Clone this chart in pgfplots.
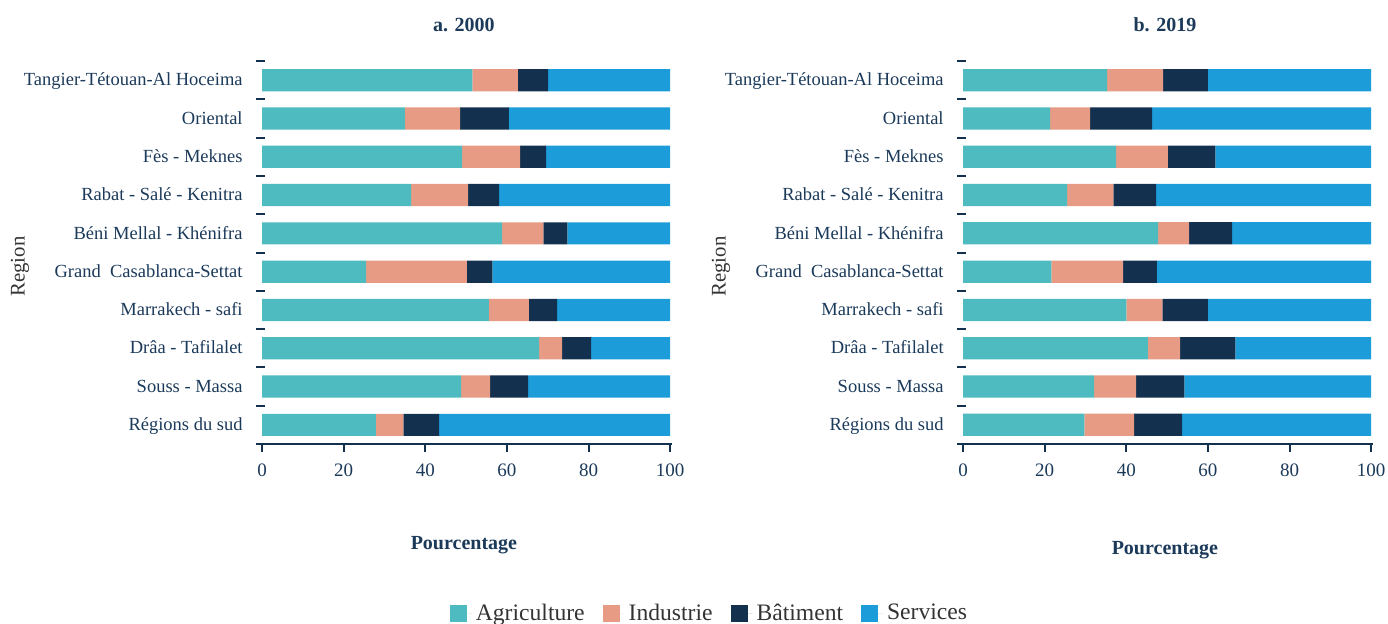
\documentclass[border=0pt]{standalone}
\usepackage{fontspec}
\setmainfont{Liberation Serif}
\usepackage{pgfplots}
\pgfplotsset{compat=1.18}
\usepackage{pgfplotstable}
\definecolor{agri}{HTML}{4DBBBF}
\definecolor{ind}{HTML}{E89B84}
\definecolor{bat}{HTML}{13304F}
\definecolor{serv}{HTML}{1C9DD9}
\definecolor{navy}{HTML}{1B3A5A}
\definecolor{txt}{HTML}{333333}

\pgfplotstableread{
y agri ind bat serv
9 51.5 11.2 7.4 29.9
8 35.0 13.5 12.0 39.5
7 49.0 14.2 6.4 30.4
6 36.5 14.0 7.6 41.9
5 58.8 10.1 5.9 25.2
4 25.5 24.7 6.2 43.6
3 55.6 9.8 6.9 27.7
2 67.9 5.6 7.1 19.4
1 48.8 7.1 9.3 34.8
0 27.9 6.7 8.8 56.6
}\dataA

\pgfplotstableread{
y agri ind bat serv
9 35.3 13.7 11.0 40.0
8 21.3 9.8 15.2 53.7
7 37.5 12.7 11.6 38.2
6 25.5 11.3 10.5 52.7
5 47.8 7.6 10.5 34.1
4 21.6 17.6 8.3 52.5
3 40.0 8.8 11.2 40.0
2 45.3 7.9 13.5 33.3
1 32.1 10.3 11.8 45.8
0 29.7 12.2 11.8 46.3
}\dataB

\pgfplotsset{
  regstyle/.style={
    xbar stacked, bar width=0.58,
    scale only axis, width=207.9pt, height=191.5pt,
    xmin=-1.5, xmax=100.4, ymin=-0.5, ymax=9.5,
    axis lines*=left,
    y axis line style={draw=none},
    x axis line style={line width=1pt, color=bat},
    xtick={0,20,...,100},
    ytick={0,...,9},
    yticklabels={Régions du sud, Souss - Massa, Drâa - Tafilalet, Marrakech - safi, Grand\ \ Casablanca-Settat, Béni Mellal - Khénifra, Rabat - Salé - Kenitra, Fès - Meknes, Oriental, Tangier-Tétouan-Al Hoceima},
    minor ytick={-0.5,0.5,...,9.5},
    tick align=outside,
    major tick length=4pt,
    minor tick length=4.5pt,
    major y tick style={draw=none},
    minor y tick style={line width=1pt, color=bat, xshift=4.5pt},
    major x tick style={line width=1pt, color=bat},
    xtick pos=lower, ytick pos=left,
    /pgf/number format/assume math mode=true,
    yticklabel style={font=\fontsize{9.25pt}{11pt}\selectfont, color=navy, inner sep=0pt, xshift=-2.5pt, text height=1.5ex, text depth=0.25ex},
    xticklabel style={font=\fontsize{9.5pt}{11pt}\selectfont, color=navy, yshift=-2.5pt},
    title style={at={(0.5,1)}, anchor=base, yshift=9pt, font=\bfseries\fontsize{10pt}{12pt}\selectfont, color=navy},
    xlabel style={at={(0.5,0)}, anchor=base, yshift=-52.5pt, font=\bfseries\fontsize{10pt}{12pt}\selectfont, color=navy},
    ylabel style={at={(0,0.5)}, anchor=center, yshift=118pt, xshift=-7pt, font=\fontsize{10.4pt}{12pt}\selectfont, color=txt},
    xlabel={Pourcentage}, ylabel={Region},
    legend image code/.code={\fill[##1] (0pt,-4.25pt) rectangle (8.5pt,4.25pt); \path (0pt,0pt) -- (11pt,0pt);},
  }
}

\begin{document}
\begin{tikzpicture}
\useasboundingbox (0,0) rectangle (694pt,311.5pt);
\begin{axis}[regstyle, at={(128pt,89.5pt)}, anchor=south west,
  title={a. 2000},
  legend style={at={(1.093,-0.443)}, anchor=center, draw=none, fill=none,
    legend columns=4, font=\fontsize{11.8pt}{14pt}\selectfont, text=txt,
    /tikz/every even column/.append style={column sep=7pt},
    legend cell align=left}]
\addplot[fill=agri, draw=none] table[x=agri, y=y] {\dataA};
\addplot[fill=ind, draw=none] table[x=ind, y=y] {\dataA};
\addplot[fill=bat, draw=none] table[x=bat, y=y] {\dataA};
\addplot[fill=serv, draw=none] table[x=serv, y=y] {\dataA};
\legend{Agriculture, Industrie, Bâtiment, Services}
\end{axis}
\begin{axis}[regstyle, at={(478.5pt,89.5pt)}, anchor=south west,
  title={b. 2019}, xlabel style={yshift=-2.5pt}]
\addplot[fill=agri, draw=none] table[x=agri, y=y] {\dataB};
\addplot[fill=ind, draw=none] table[x=ind, y=y] {\dataB};
\addplot[fill=bat, draw=none] table[x=bat, y=y] {\dataB};
\addplot[fill=serv, draw=none] table[x=serv, y=y] {\dataB};
\end{axis}
\end{tikzpicture}
\end{document}
